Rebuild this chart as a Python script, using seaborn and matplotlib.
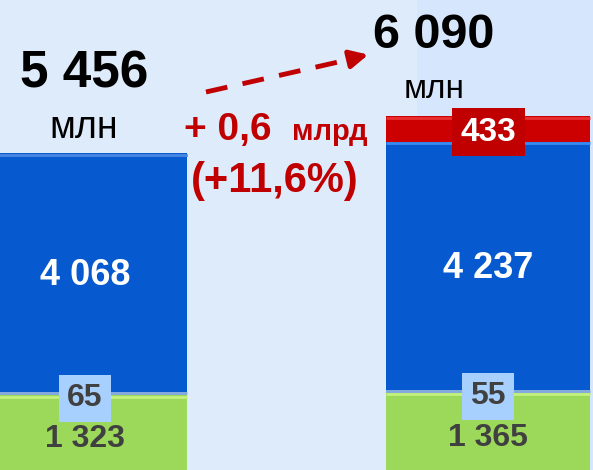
import numpy as np
import pandas as pd
import matplotlib
matplotlib.use("Agg")
import matplotlib.pyplot as plt
import seaborn as sns

# data (bottom -> top segments)
years = ["2023", "2024"]
green_vals = [1323, 1365]
light_vals = [65, 55]
blue_vals = [4068, 4237]
red_vals = [0, 433]
totals = ["5 456", "6 090"]
green_labels = ["1 323", "1 365"]
light_labels = ["65", "55"]
blue_labels = ["4 068", "4 237"]
red_labels = ["", "433"]

sns.set_theme(style="white")
plt.rcParams["font.family"] = ["Liberation Sans", "DejaVu Sans"]

bg = "#DEEBFB"
c_green = "#9CD95A"
c_light = "#84AADD"
c_blue = "#0659CF"
c_red = "#CC0000"
c_dark = "#404040"
c_text_red = "#C00000"

c1 = np.array(green_vals)
c2 = c1 + np.array(light_vals)
c3 = c2 + np.array(blue_vals)
c4 = c3 + np.array(red_vals)

fig = plt.figure(figsize=(5.93, 4.70), dpi=100, facecolor=bg)
ax = fig.add_axes([0, 0, 1, 1])
ax.set_facecolor(bg)

# faint band on the right like the slide background
ax.add_patch(plt.Rectangle((0.703, 0.0), 0.3, 1.0, transform=ax.transAxes,
                           color="#D6E6FC", zorder=0, lw=0))

# stacked bars: draw cumulative sums from tallest to shortest
layers = [(c4, c_red, "#E83030"), (c3, c_blue, "#3A8AF0"),
          (c2, c_light, c_light), (c1, c_green, "#C4F07E")]
for cum, col, hi in layers:
    df = pd.DataFrame({"year": years, "value": cum})
    sns.barplot(data=df, x="year", y="value", color=col, width=0.506,
                saturation=1, ax=ax, linewidth=0, zorder=2)

ax.set_xlim(-0.211, 1.26)
ax.set_ylim(51, 8072)
ax.axis("off")

# light top edge of every segment (bevel look)
for cum, col, hi in layers:
    for i in range(2):
        ax.plot([i - 0.253, i + 0.253], [cum[i] - 25, cum[i] - 25], color=hi,
                lw=2, zorder=3, solid_capstyle="butt")

for i in range(2):
    # blue label
    ax.text(i, (c2[i] + c3[i]) / 2 - 215, blue_labels[i], ha="center", va="baseline",
            color="white", fontsize=26, fontweight="bold", zorder=5)
    # green label
    ax.text(i, c1[i] * 0.42 - 110, green_labels[i], ha="center", va="baseline",
            color=c_dark, fontsize=23, fontweight="bold", zorder=5)
    # small light segment label in a box
    ax.text(i, c2[i] - 250, light_labels[i], ha="center", va="baseline",
            color=c_dark, fontsize=23, fontweight="bold", zorder=6,
            bbox=dict(boxstyle="square,pad=0.26", fc="#A8D0FF", ec="none"))
    if red_vals[i] > 0:
        ax.text(i, (c3[i] + c4[i]) / 2 - 200, red_labels[i], ha="center", va="baseline",
                color="white", fontsize=24, fontweight="bold", zorder=6,
                bbox=dict(boxstyle="square,pad=0.26", fc="#C00000", ec="none"))

W, H = 593, 470
def fx(px):
    return px / W
def fy(py):
    return 1 - py / H

# totals above bars
ax.text(fx(84), fy(87), totals[0], transform=ax.transAxes, ha="center", va="baseline",
        fontsize=37, fontweight="bold", color="black")
ax.text(fx(84), fy(138), "млн", transform=ax.transAxes, ha="center", va="baseline",
        fontsize=27, color="black")
ax.text(fx(434), fy(48), totals[1], transform=ax.transAxes, ha="center", va="baseline",
        fontsize=35, fontweight="bold", color="black")
ax.text(fx(434), fy(98), "млн", transform=ax.transAxes, ha="center", va="baseline",
        fontsize=24, color="black")

# growth annotation
ax.text(fx(184), fy(140), "+ 0,6", transform=ax.transAxes, ha="left", va="baseline",
        fontsize=28, fontweight="bold", color=c_text_red)
ax.text(fx(292), fy(140), "млрд", transform=ax.transAxes, ha="left", va="baseline",
        fontsize=21, fontweight="bold", color=c_text_red)
ax.text(fx(275), fy(192), "(+11,6%)", transform=ax.transAxes, ha="center", va="baseline",
        fontsize=30, fontweight="bold", color=c_text_red)

# dashed arrow
ax.plot([fx(206), fx(356)], [fy(92), fy(58)], transform=ax.transAxes,
        color=c_text_red, lw=3.5, dashes=(4.5, 3.2), solid_capstyle="butt")
ax.annotate("", xy=(fx(371), fy(54)), xytext=(fx(350), fy(59)),
            xycoords="axes fraction", textcoords="axes fraction",
            arrowprops=dict(arrowstyle="-|>,head_length=0.9,head_width=0.45",
                            color=c_text_red, lw=3.5))

fig.savefig("out.png", dpi=100, facecolor=bg)
